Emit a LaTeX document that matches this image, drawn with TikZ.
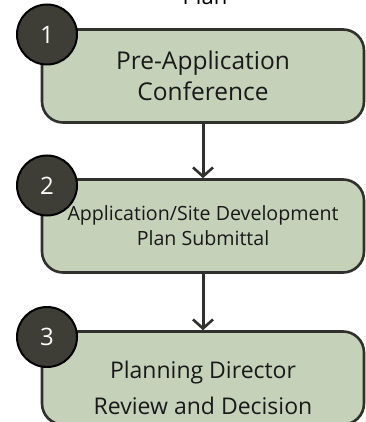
\documentclass[tikz,border=0pt]{standalone}
\usepackage{fontspec}
\setmainfont{Open Sans}
\usepackage{tikz}
\usetikzlibrary{arrows.meta}

\definecolor{stepgreen}{RGB}{198,209,186}
\definecolor{stepline}{RGB}{48,48,44}
\definecolor{numdark}{RGB}{62,62,54}

\tikzset{
  stepbox/.style={draw=stepline,line width=2.6pt,fill=stepgreen,rounded corners=21pt,
    minimum width=322pt,minimum height=93pt,align=center,inner sep=0pt,text=black!90},
  numdot/.style={circle,draw=black,line width=2pt,fill=numdark,minimum size=60pt,
    inner sep=0pt,text=white,font=\fontsize{24}{28}\selectfont},
  flow/.style={line width=3pt,draw=stepline,-{Straight Barb[length=9pt,width=20pt,line width=2.6pt]}}
}

\begin{document}
\begin{tikzpicture}[x=1pt,y=-1pt]
\useasboundingbox (0,0) rectangle (365,422);

\node[anchor=base,font=\fontsize{22}{26}\selectfont] (title) at (205,5) {Plan};

\node[stepbox,font=\fontsize{24.5}{31}\selectfont] (conf) at (203,76) {Pre-Application\\Conference};
\node[stepbox,font=\fontsize{19.6}{25}\selectfont] (submit) at (203,226) {Application/Site Development\\Plan Submittal};
\node[stepbox,font=\fontsize{23}{36}\selectfont,text height=74pt] (review) at (203,378) {Planning Director\\Review and Decision};

\draw[flow] (conf) -- (submit);
\draw[flow] (submit) -- (review);

\foreach \n/\y in {1/34.5,2/185.5,3/337}{
  \node[numdot] (num\n) at (47,\y) {\n};
};

\end{tikzpicture}
\end{document}
